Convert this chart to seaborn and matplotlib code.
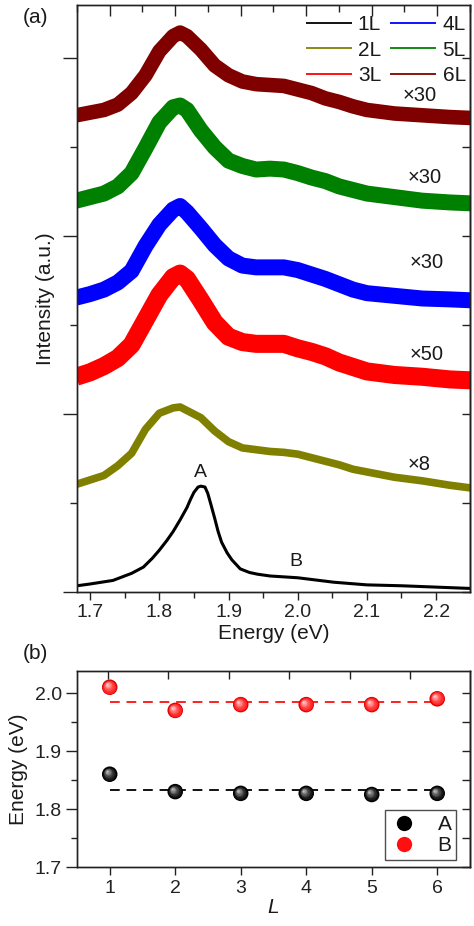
import numpy as np
import pandas as pd
import matplotlib
matplotlib.use("Agg")
import matplotlib.pyplot as plt
import matplotlib.transforms as mtransforms
from matplotlib.lines import Line2D
from matplotlib.ticker import MultipleLocator
import seaborn as sns

# ---------------- data: panel (a) ----------------
energy = [1.68, 1.70, 1.72, 1.74, 1.76, 1.78, 1.80, 1.82, 1.83, 1.84, 1.86, 1.88,
          1.90, 1.92, 1.94, 1.96, 1.98, 2.00, 2.02, 2.04, 2.06, 2.08, 2.10, 2.14,
          2.18, 2.22, 2.25]
int_2L = [1.21, 1.26, 1.31, 1.42, 1.56, 1.83, 2.01, 2.07, 2.08, 2.04, 1.96, 1.81,
          1.69, 1.62, 1.60, 1.58, 1.57, 1.55, 1.51, 1.47, 1.43, 1.38, 1.35, 1.29,
          1.25, 1.20, 1.17]
int_3L = [2.42, 2.47, 2.54, 2.63, 2.78, 3.06, 3.34, 3.54, 3.58, 3.52, 3.28, 3.03,
          2.87, 2.81, 2.79, 2.79, 2.79, 2.74, 2.70, 2.65, 2.58, 2.53, 2.48, 2.44,
          2.42, 2.39, 2.38]
int_4L = [3.31, 3.35, 3.40, 3.48, 3.61, 3.89, 4.13, 4.30, 4.34, 4.27, 4.09, 3.90,
          3.75, 3.67, 3.65, 3.65, 3.65, 3.62, 3.57, 3.52, 3.46, 3.40, 3.36, 3.33,
          3.30, 3.29, 3.28]
int_5L = [4.40, 4.44, 4.48, 4.56, 4.71, 4.99, 5.28, 5.45, 5.47, 5.42, 5.19, 5.00,
          4.85, 4.79, 4.75, 4.76, 4.75, 4.71, 4.66, 4.62, 4.56, 4.52, 4.48, 4.44,
          4.40, 4.38, 4.37]
int_6L = [5.36, 5.39, 5.42, 5.48, 5.61, 5.81, 6.08, 6.25, 6.29, 6.25, 6.10, 5.92,
          5.81, 5.74, 5.71, 5.70, 5.69, 5.65, 5.61, 5.55, 5.51, 5.46, 5.42, 5.38,
          5.36, 5.34, 5.33]

energy_1L = [1.681, 1.70, 1.733, 1.76, 1.777, 1.79, 1.80, 1.811, 1.82, 1.83, 1.84,
             1.845, 1.85, 1.856, 1.86, 1.866, 1.87, 1.874, 1.88, 1.885, 1.89, 1.898,
             1.905, 1.917, 1.93, 1.942, 1.96, 2.00, 2.052, 2.10, 2.15, 2.249]
int_1L = [0.07, 0.09, 0.13, 0.21, 0.28, 0.38, 0.47, 0.58, 0.68, 0.81, 0.95,
          1.04, 1.12, 1.18, 1.19, 1.18, 1.11, 1.00, 0.83, 0.68, 0.56, 0.44,
          0.36, 0.26, 0.22, 0.20, 0.18, 0.16, 0.11, 0.08, 0.07, 0.04]

layers = ["1L", "2L", "3L", "4L", "5L", "6L"]
layer_colors = ["#000000", "#808000", "#ff0000", "#0000ff", "#008000", "#800000"]
multipliers = ["×8", "×50", "×30", "×30", "×30"]
mult_x = [2.176, 2.186, 2.186, 2.184, 2.176]
mult_y = [1.43, 2.67, 3.71, 4.66, 5.58]

xticks_a = [1.7, 1.8, 1.9, 2.0, 2.1, 2.2]

# ---------------- data: panel (b) ----------------
L_vals = [1, 2, 3, 4, 5, 6]
E_A = [1.860, 1.830, 1.827, 1.827, 1.825, 1.827]
E_B = [2.010, 1.970, 1.980, 1.980, 1.980, 1.990]
A_line = 1.832
B_line = 1.984
yticks_b = [1.7, 1.8, 1.9, 2.0]

# ---------------- style ----------------
sns.set_theme(style="ticks", rc={"axes.edgecolor": "#222222",
                                 "axes.linewidth": 1.0,
                                 "xtick.color": "#222222",
                                 "ytick.color": "#222222",
                                 "text.color": "#1a1a1a",
                                 "axes.labelcolor": "#1a1a1a",
                                 "lines.solid_joinstyle": "round",
                                 "lines.solid_capstyle": "butt"})
plt.rcParams["font.family"] = ["Liberation Sans", "DejaVu Sans"]

fig = plt.figure(figsize=(4.74, 9.26), dpi=100)
ax1 = fig.add_axes([0.1624, 0.3607, 0.8291, 0.6339])
ax2 = fig.add_axes([0.1624, 0.0637, 0.8291, 0.2117])

# ---------------- panel (a) ----------------
curves = [(energy_1L, int_1L), (energy, int_2L), (energy, int_3L),
          (energy, int_4L), (energy, int_5L), (energy, int_6L)]
widths = [2.2, 5.5, 13.0, 11.5, 11.5, 10.5]
for (ex, iy), lab, col, lw in zip(curves, layers, layer_colors, widths):
    df = pd.DataFrame({"E": ex, "I": iy})
    sns.lineplot(data=df, x="E", y="I", ax=ax1, color=col, linewidth=lw,
                 estimator=None, sort=False, legend=False)

ax1.set_xlim(1.681, 2.249)
ax1.set_ylim(0, 6.6)
ax1.set_xticks(xticks_a)
ax1.set_xticklabels([f"{v:.1f}" for v in xticks_a])
ax1.xaxis.set_minor_locator(MultipleLocator(0.05))
ax1.set_yticks([0, 2, 4, 6])
ax1.yaxis.set_minor_locator(MultipleLocator(1))
ax1.tick_params(axis="x", which="major", direction="out", length=6, width=1,
                bottom=True, top=False, labelsize=14, pad=3)
ax1.tick_params(axis="x", which="minor", direction="out", length=4, width=1,
                bottom=True, top=False)
ax1.tick_params(axis="y", which="major", direction="out", length=10, width=1,
                left=True, right=False, labelleft=False)
ax1.tick_params(axis="y", which="minor", direction="out", length=5, width=1,
                left=True, right=False)
ax1.set_xlabel("Energy (eV)", fontsize=15, labelpad=2)
ax1.set_ylabel("Intensity (a.u.)", fontsize=15, labelpad=6)
for s in ax1.spines.values():
    s.set_visible(True)

sec1 = ax1.secondary_yaxis("right")
sec1.set_yticks([0, 2, 4, 6])
sec1.yaxis.set_minor_locator(MultipleLocator(1))
sec1.tick_params(which="both", direction="in", length=6, width=1, labelright=False)

top1 = ax1.twiny()
top1.set_xlim(-0.5, 5.5)
top1.set_xticks(range(6))
top1.xaxis.set_minor_locator(MultipleLocator(0.5))
top1.tick_params(axis="x", which="major", direction="in", length=8, width=1, labeltop=False)
top1.tick_params(axis="x", which="minor", direction="in", length=5, width=1)

for t, xx, yy in zip(multipliers, mult_x, mult_y):
    ax1.text(xx, yy, t, ha="center", va="center", fontsize=14.5)
ax1.text(1.859, 1.34, "A", ha="center", va="center", fontsize=14)
ax1.text(1.997, 0.34, "B", ha="center", va="center", fontsize=14)

handles = [Line2D([], [], color=c, lw=1.3) for c in layer_colors]
ax1.legend(handles, layers, loc="upper right", bbox_to_anchor=(1.0, 0.99),
           ncol=2, frameon=False,
           fontsize=15, handlelength=2.2, handletextpad=0.3, columnspacing=0.45,
           labelspacing=0.32, borderaxespad=0.1, borderpad=0.1)

fig.text(0.074, 0.981, "(a)", fontsize=15, ha="center", va="center")

# ---------------- panel (b) ----------------
ax2.plot([L_vals[0], L_vals[-1]], [B_line, B_line], color="#ff2020", lw=1.4,
         linestyle=(0, (5, 3.5)), zorder=1)
ax2.plot([L_vals[0], L_vals[-1]], [A_line, A_line], color="#111111", lw=1.4,
         linestyle=(0, (5, 3.5)), zorder=1)

dfb = pd.DataFrame({"L": L_vals * 2, "E": E_A + E_B,
                    "peak": ["A"] * len(L_vals) + ["B"] * len(L_vals)})
msize = 125
sns.scatterplot(data=dfb, x="L", y="E", hue="peak",
                palette={"A": "#000000", "B": "#d40000"}, s=msize,
                linewidth=0, ax=ax2, legend=False, zorder=3)


def mix(c1, c2, t):
    a = np.array(matplotlib.colors.to_rgb(c1))
    b = np.array(matplotlib.colors.to_rgb(c2))
    return tuple(a + (b - a) * t)


def shade(axx, xs, ys, base, light, size):
    n = 9
    for k in range(1, n):
        t = k / (n - 1)
        tr = mtransforms.offset_copy(axx.transData, fig=fig, x=-2.0 * t,
                                     y=2.0 * t, units="points")
        axx.scatter(xs, ys, s=size * (1 - 0.88 * t) ** 2,
                    color=mix(base, light, t ** 1.5), transform=tr,
                    linewidths=0, zorder=3 + k, clip_on=False)


shade(ax2, L_vals, E_A, "#000000", "#bdbdbd", msize)
shade(ax2, L_vals, E_B, "#ff1010", "#ffd0d0", msize)

ax2.set_xlim(0.5, 6.5)
ax2.set_ylim(1.7, 2.038)
ax2.set_xticks(L_vals)
ax2.set_yticks(yticks_b)
ax2.set_yticklabels([f"{v:.1f}" for v in yticks_b])
ax2.yaxis.set_minor_locator(MultipleLocator(0.05))
ax2.tick_params(axis="x", which="major", direction="out", length=6, width=1,
                bottom=True, top=False, labelsize=14, pad=3)
ax2.tick_params(axis="y", which="major", direction="out", length=8, width=1,
                left=True, right=False, labelsize=14, pad=3)
ax2.tick_params(axis="y", which="minor", direction="out", length=4, width=1,
                left=True, right=False)
ax2.set_xlabel("L", fontsize=15, style="italic", labelpad=1)
ax2.set_ylabel("Energy (eV)", fontsize=15, labelpad=5)
for s in ax2.spines.values():
    s.set_visible(True)

sec2 = ax2.secondary_yaxis("right")
sec2.set_yticks([1.7, 1.75, 1.8, 1.85, 1.9, 1.95, 2.0])
sec2.tick_params(which="both", direction="in", length=6, width=1, labelright=False)

top2 = ax2.twiny()
top2.set_xlim(-0.51, 5.99)
top2.set_xticks(range(6))
top2.tick_params(axis="x", which="major", direction="in", length=6, width=1, labeltop=False)

leg_handles = [Line2D([], [], marker="o", linestyle="none", markersize=11,
                      markerfacecolor="#000000", markeredgewidth=0),
               Line2D([], [], marker="o", linestyle="none", markersize=11,
                      markerfacecolor="#ff1010", markeredgewidth=0)]
leg = ax2.legend(leg_handles, ["A", "B"], loc="lower right",
                 bbox_to_anchor=(0.965, 0.036), fontsize=15,
                 frameon=True, fancybox=False, edgecolor="#222222",
                 handletextpad=0.9, borderpad=0.22, labelspacing=0.12,
                 borderaxespad=0.0, handlelength=1.4)
leg.get_frame().set_linewidth(1.0)

fig.text(0.074, 0.294, "(b)", fontsize=15, ha="center", va="center")

fig.savefig("out.png", dpi=100)
